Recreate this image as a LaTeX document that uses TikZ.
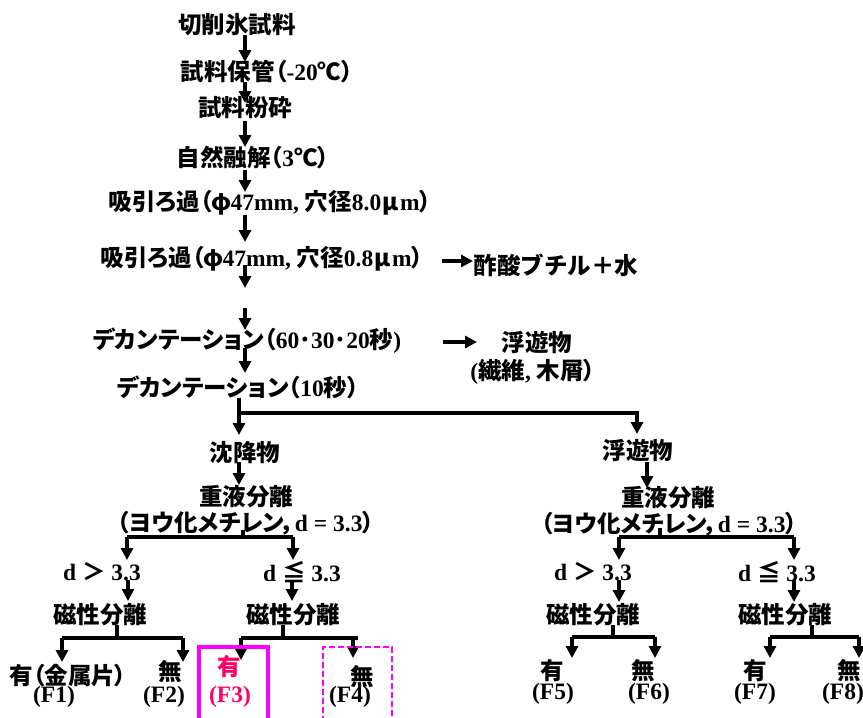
\documentclass[tikz,border=0pt]{standalone}
\usepackage{fontspec}
\setmainfont{Liberation Serif}
\newfontfamily\jpb{Noto Sans CJK JP Bold}[RawFeature={+palt}]
\newfontfamily\jpf{Noto Sans CJK JP Bold}
\newfontfamily\jpr{Noto Sans CJK JP}[RawFeature={+palt}]
\usetikzlibrary{arrows.meta}
\newcommand\J[1]{{\jpb #1}}
\newcommand\JF[1]{{\jpf #1}}
\newcommand\Jr[1]{{\jpr #1}}
\newcommand\FW[1]{\makebox[0.8em]{\jpf #1}}
\definecolor{boxmag}{RGB}{255,0,255}
\definecolor{txtmag}{RGB}{255,0,102}
\tikzset{
  lbl/.style={inner sep=0pt, font=\fontsize{23.5}{25}\selectfont\bfseries},
  ln/.style={line width=3.5pt},
  arr/.style={line width=3.5pt, -{Triangle[width=12pt,length=12pt]}},
}
\begin{document}
\begin{tikzpicture}[x=1pt,y=-1pt]
\useasboundingbox (0,0) rectangle (863,718);
% ---- upper chain ----
\node[lbl] (t1) at (237,25) {\J{切削氷試料}};
\node[lbl] (t2) at (267,72) {\J{試料保管（}-20\J{℃）}};
\node[lbl] (t3) at (245,108) {\J{試料粉砕}};
\node[lbl] (t4) at (253,158) {\J{自然融解（}3\J{℃）}};
\node[lbl] (t5) at (270,203) {\J{吸引ろ過（}\FW{φ}47mm, \J{穴径}8.0\FW{μ}m\J{）}};
\node[lbl] (t6) at (262,259) {\J{吸引ろ過（}\FW{φ}47mm, \J{穴径}0.8\FW{μ}m\J{）}};
\node[lbl] (t6r) at (556,265) {\JF{酢酸ブチル＋水}};
\node[lbl] (t7) at (247,341) {\J{デカンテーション（}60\J{･}30\J{･}20\J{秒})};
\node[lbl] (t7r) at (537,342) {\J{浮遊物}};
\node[lbl] (t7r2) at (533,372) {(\J{繊維}, \J{木屑）}};
\node[lbl] (t8) at (238,387) {\J{デカンテーション（}10\J{秒）}};
% ---- left branch ----
\node[lbl] (L0) at (245,453) {\J{沈降物}};
\node[lbl] (L1) at (246,497) {\J{重液分離}};
\node[lbl] (L2) at (246,523) {\J{（ヨウ化メチレン，}d = 3.3\J{）}};
\node[lbl] (LA) at (102,572) {d \JF{＞} 3.3};
\node[lbl] (LB) at (302,572) {d \JF{≦} 3.3};
\node[lbl] (LAm) at (100,615) {\J{磁性分離}};
\node[lbl] (LBm) at (293,615) {\J{磁性分離}};
\node[lbl] (F1a) at (68,676) {\Jr{有（金属片）}};
\node[lbl] (F1) at (54,697) {(F1)};
\node[lbl] (F2a) at (170,672) {\J{無}};
\node[lbl] (F2) at (164,697) {(F2)};
\node[lbl, text=txtmag] (F3a) at (229,667) {\J{有}};
\node[lbl, text=txtmag] (F3) at (230,697) {(F3)};
\node[lbl] (F4a) at (362,677) {\J{無}};
\node[lbl] (F4) at (350,697) {(F4)};
% ---- right branch ----
\node[lbl] (R0) at (638,450) {\J{浮遊物}};
\node[lbl] (R1) at (668,498) {\J{重液分離}};
\node[lbl] (R2) at (669,524) {\J{（ヨウ化メチレン，}d = 3.3\J{）}};
\node[lbl] (RA) at (593,572) {d \JF{＞} 3.3};
\node[lbl] (RB) at (777,572) {d \JF{≦} 3.3};
\node[lbl] (RAm) at (593,615) {\J{磁性分離}};
\node[lbl] (RBm) at (785,615) {\J{磁性分離}};
\node[lbl] (F5a) at (552,671) {\J{有}};
\node[lbl] (F5) at (553,694) {(F5)};
\node[lbl] (F6a) at (643,671) {\J{無}};
\node[lbl] (F6) at (649,694) {(F6)};
\node[lbl] (F7a) at (755,671) {\J{有}};
\node[lbl] (F7) at (755,694) {(F7)};
\node[lbl] (F8a) at (849,671) {\J{無}};
\node[lbl] (F8) at (843,694) {(F8)};
% ---- connector points ----
\coordinate (a1s) at (245,35);  \coordinate (a1e) at (245,62);
\coordinate (a2s) at (245,82);  \coordinate (a2e) at (245,103);
\coordinate (a3s) at (245,121); \coordinate (a3e) at (245,147);
\coordinate (a4s) at (245,170); \coordinate (a4e) at (245,192);
\coordinate (a5s) at (245,215); \coordinate (a5e) at (245,242);
\coordinate (a6s) at (245,265); \coordinate (a6e) at (245,288);
\coordinate (a7s) at (245,308); \coordinate (a7e) at (245,330);
\coordinate (a8s) at (245,348); \coordinate (a8e) at (245,373);
\coordinate (b1s) at (442,261); \coordinate (b1e) at (473,261);
\coordinate (b2s) at (443,342); \coordinate (b2e) at (477,342);
\coordinate (tr0) at (239,398); \coordinate (trL) at (239,435);
\coordinate (trR) at (637,413); \coordinate (trRe) at (637,434);
\coordinate (l0s) at (239,462); \coordinate (l0e) at (239,485);
\coordinate (l2s) at (243,530); \coordinate (l2b) at (243,537);
\coordinate (lAt) at (127,537); \coordinate (lAe) at (127,560);
\coordinate (lBt) at (293,537); \coordinate (lBe) at (293,560);
\coordinate (lAs2) at (128,580); \coordinate (lAe2) at (128,601);
\coordinate (lBs2) at (292,580); \coordinate (lBe2) at (292,601);
\coordinate (mAs) at (117,625); \coordinate (mAb) at (117,638);
\coordinate (f1t) at (62,638);  \coordinate (f1e) at (62,662);
\coordinate (f2t) at (183,638); \coordinate (f2e) at (183,662);
\coordinate (mBs) at (283,625); \coordinate (mBb) at (283,638);
\coordinate (f3t) at (241,638); \coordinate (f3e) at (241,660);
\coordinate (f4t) at (353,638); \coordinate (f4e) at (353,658);
\coordinate (barBend) at (358,638);
\coordinate (r0s) at (647,462); \coordinate (r0e) at (647,488);
\coordinate (r2s) at (660,528); \coordinate (r2b) at (660,537);
\coordinate (rAt) at (619,537); \coordinate (rAe) at (619,560);
\coordinate (rBt) at (794,537); \coordinate (rBe) at (794,560);
\coordinate (rAs2) at (619,580); \coordinate (rAe2) at (619,602);
\coordinate (rBs2) at (794,580); \coordinate (rBe2) at (794,602);
\coordinate (nAs) at (613,625); \coordinate (nAb) at (613,637);
\coordinate (f5t) at (572,637); \coordinate (f5e) at (572,658);
\coordinate (f6t) at (655,637); \coordinate (f6e) at (655,658);
\coordinate (nBs) at (812,625); \coordinate (nBb) at (812,637);
\coordinate (f7t) at (770,637); \coordinate (f7e) at (770,658);
\coordinate (f8t) at (859,637); \coordinate (f8e) at (859,658);
% ---- connectors ----
\draw[arr] (a1s) -- (a1e);
\draw[arr] (a2s) -- (a2e);
\draw[arr] (a3s) -- (a3e);
\draw[arr] (a4s) -- (a4e);
\draw[arr] (a5s) -- (a5e);
\draw[arr] (a6s) -- (a6e);
\draw[arr] (a7s) -- (a7e);
\draw[arr] (a8s) -- (a8e);
\draw[arr] (b1s) -- (b1e);
\draw[arr] (b2s) -- (b2e);
\draw[arr] (tr0) -- (trL);
\draw[arr] (tr0) |- (trR) -- (trRe);
\draw[arr] (l0s) -- (l0e);
\draw[ln] (l2s) -- (l2b);
\draw[ln] (lAt) -- (lBt);
\draw[arr] (lAt) -- (lAe);
\draw[arr] (lBt) -- (lBe);
\draw[arr] (lAs2) -- (lAe2);
\draw[arr] (lBs2) -- (lBe2);
\draw[ln] (mAs) -- (mAb);
\draw[ln] (f1t) -- (f2t);
\draw[arr] (f1t) -- (f1e);
\draw[arr] (f2t) -- (f2e);
\draw[ln] (mBs) -- (mBb);
\draw[ln] (f3t) -- (barBend);
\draw[arr] (f3t) -- (f3e);
\draw[arr] (f4t) -- (f4e);
\draw[arr] (r0s) -- (r0e);
\draw[ln] (r2s) -- (r2b);
\draw[ln] (rAt) -- (rBt);
\draw[arr] (rAt) -- (rAe);
\draw[arr] (rBt) -- (rBe);
\draw[arr] (rAs2) -- (rAe2);
\draw[arr] (rBs2) -- (rBe2);
\draw[ln] (nAs) -- (nAb);
\draw[ln] (f5t) -- (f6t);
\draw[arr] (f5t) -- (f5e);
\draw[arr] (f6t) -- (f6e);
\draw[ln] (nBs) -- (nBb);
\draw[ln] (f7t) -- (f8t);
\draw[arr] (f7t) -- (f7e);
\draw[arr] (f8t) -- (f8e);
% ---- highlight boxes ----
\draw[boxmag, line width=3.5pt] (199,722) -- (199,647) -- (268,647) -- (268,722);
\draw[boxmag, line width=2pt, dash pattern=on 6pt off 3pt] (323,722) -- (323,647) -- (392,647) -- (392,722);
\end{tikzpicture}
\end{document}
